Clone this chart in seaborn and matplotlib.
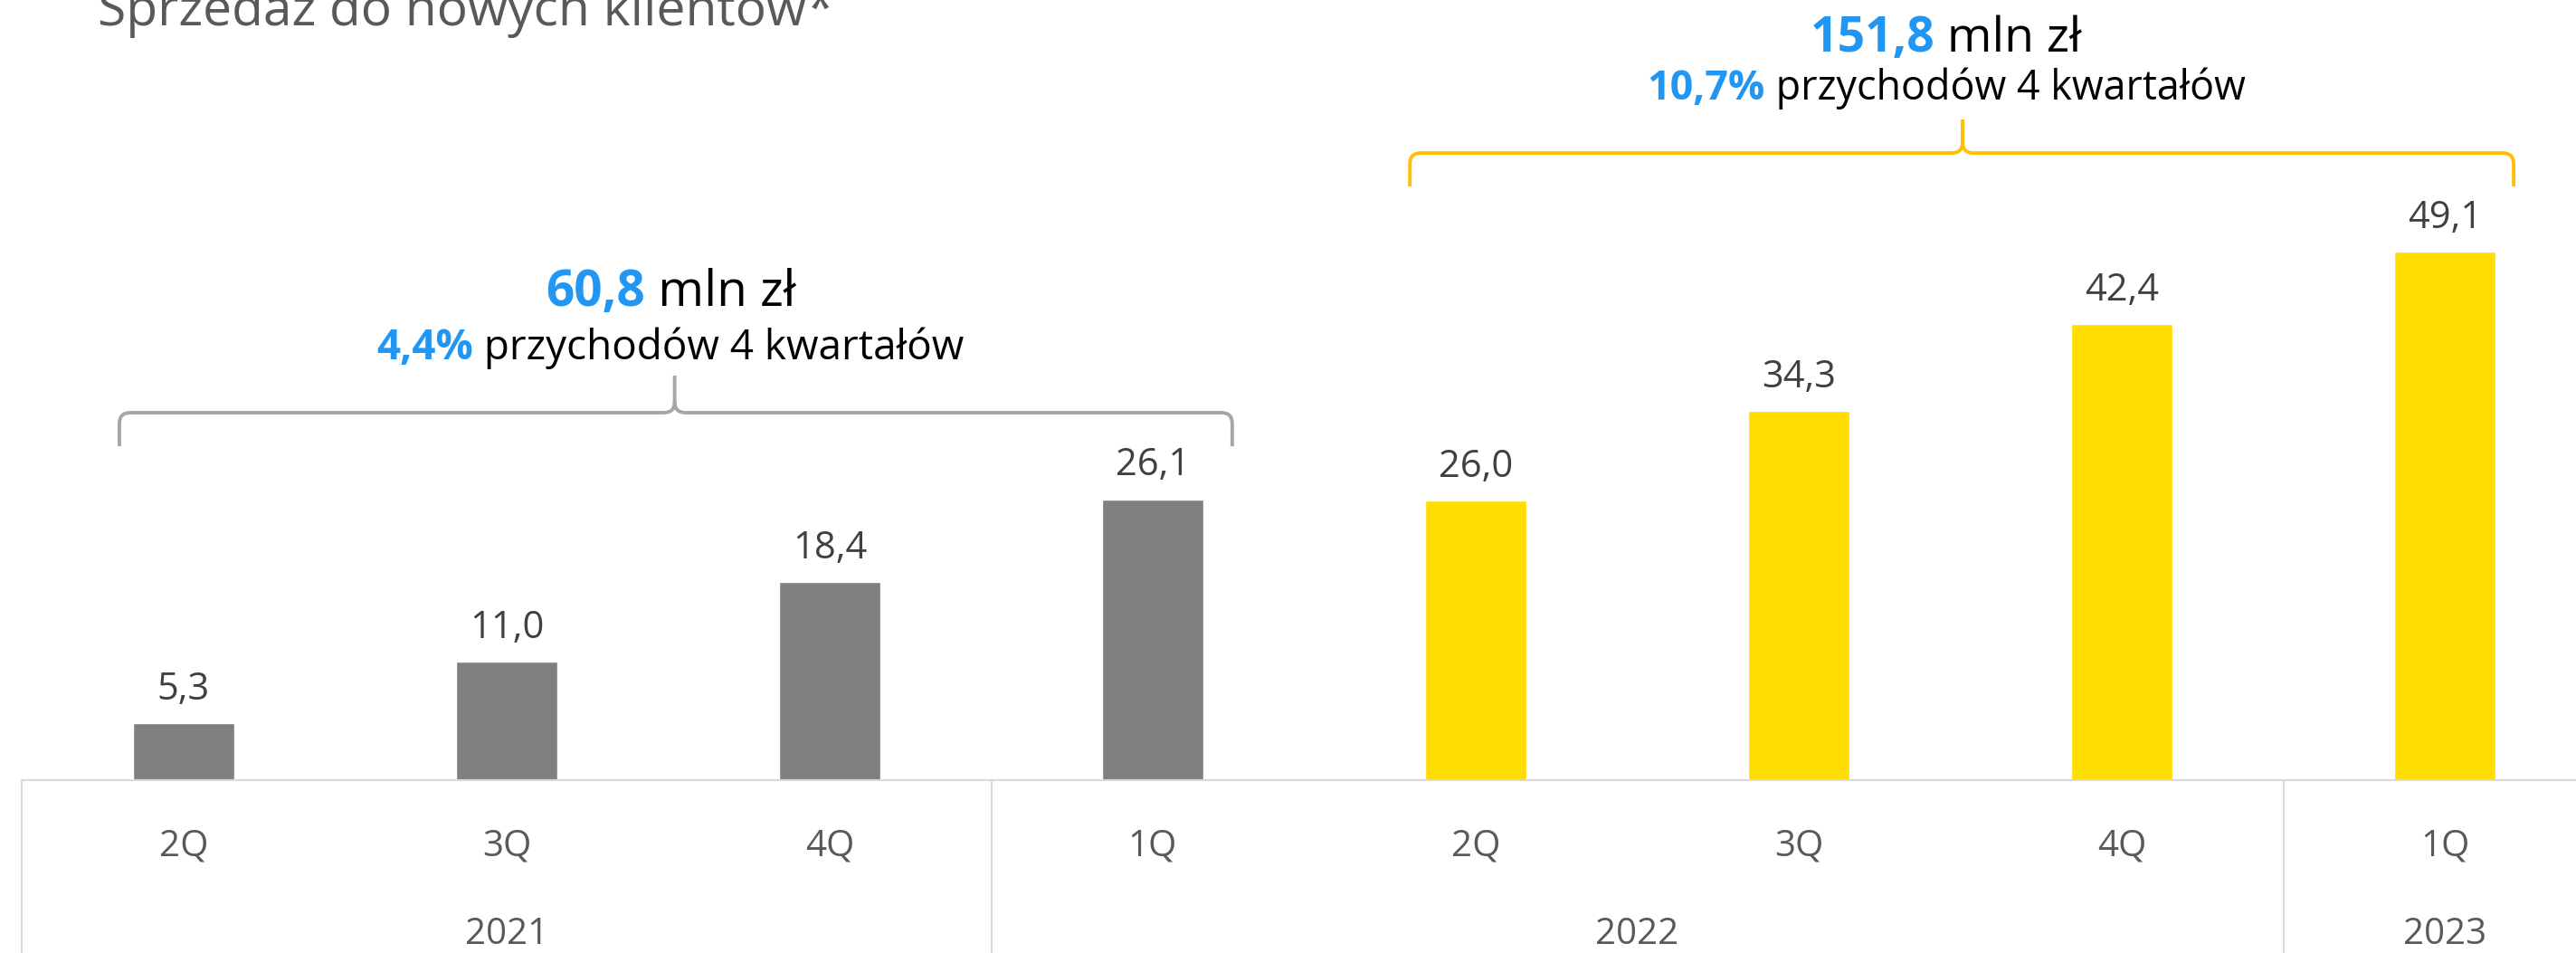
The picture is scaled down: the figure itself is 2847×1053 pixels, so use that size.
import matplotlib
matplotlib.use("Agg")
import matplotlib.pyplot as plt
import matplotlib.transforms as mtransforms
from matplotlib.path import Path
from matplotlib.patches import PathPatch
import seaborn as sns
import pandas as pd

quarters = ["2Q", "3Q", "4Q", "1Q", "2Q", "3Q", "4Q", "1Q"]
years = ["2021", "2021", "2021", "2022", "2022", "2022", "2022", "2023"]
values = [5.3, 11.0, 18.4, 26.1, 26.0, 34.3, 42.4, 49.1]
groups = ["prev", "prev", "prev", "prev", "last", "last", "last", "last"]

year_labels = ["2021", "2022", "2023"]
year_spans = [(-0.5, 2.5), (2.5, 6.5), (6.5, 7.5)]

title = "Sprzedaż do nowych klientów*"
sum_prev = ("60,8", "mln zł", "4,4%", "przychodów 4 kwartałów")
sum_last = ("151,8", "mln zł", "10,7%", "przychodów 4 kwartałów")

GRAY = "#808080"
YELLOW = "#FFDD00"
BLUE = "#2196F3"
LINE = "#D9D9D9"

sns.set_theme(style="white")
plt.rcParams["font.family"] = ["Open Sans", "DejaVu Sans"]

df = pd.DataFrame({"cat": [f"{q} {y}" for q, y in zip(quarters, years)],
                   "value": values, "group": groups})

fig = plt.figure(figsize=(28.47, 10.53), dpi=100)
ax = fig.add_axes([0, 0, 1, 1])
sns.barplot(data=df, x="cat", y="value", hue="group", order=list(df["cat"]),
            palette={"prev": GRAY, "last": YELLOW}, dodge=False, width=0.316,
            saturation=1, legend=False, ax=ax)
ax.set_xlim(-0.5686, 7.406)
ax.set_ylim(-16.06, 72.5)
ax.axis("off")

# value labels
for i, v in enumerate(values):
    ax.annotate(f"{v:.1f}".replace(".", ","), (i, v), xytext=(0, 19),
                textcoords="offset points", ha="center", va="baseline",
                fontsize=30, color="#404040")

# table under the bars
ax.plot([-0.5, 7.6], [0, 0], color=LINE, lw=1.5, clip_on=False, zorder=3)
for a, b in year_spans:
    ax.vlines([a], -17, 0, color=LINE, lw=1.5)
for i, q in enumerate(quarters):
    ax.text(i, -6.98, q, ha="center", va="baseline", fontsize=29, color="#595959")
for lab, (a, b) in zip(year_labels, year_spans):
    ax.text((a + 0.5 + b - 0.5) / 2, -15.22, lab, ha="center", va="baseline",
            fontsize=29, color="#595959")

fig.text(0.0379, 0.9734, title, ha="left", va="baseline", fontsize=41, color="#595959")


def brace(x0, x1, xc, y_end, y_h, y_peak, color):
    rx, ry = 0.034, 1.0
    verts = [(x0, y_end), (x0, y_h - ry), (x0, y_h), (x0 + rx, y_h),
             (xc - rx, y_h), (xc, y_h), (xc, y_h + ry), (xc, y_peak),
             (x1, y_end), (x1, y_h - ry), (x1, y_h), (x1 - rx, y_h),
             (xc + rx, y_h), (xc, y_h), (xc, y_h + ry)]
    codes = [Path.MOVETO, Path.LINETO, Path.CURVE3, Path.CURVE3,
             Path.LINETO, Path.CURVE3, Path.CURVE3, Path.LINETO,
             Path.MOVETO, Path.LINETO, Path.CURVE3, Path.CURVE3,
             Path.LINETO, Path.CURVE3, Path.CURVE3]
    ax.add_patch(PathPatch(Path(verts, codes), fill=False, edgecolor=color,
                           lw=2.8, capstyle="butt", joinstyle="round"))


brace(-0.199, 3.246, 1.52, 31.03, 34.15, 37.6, "#A6A6A6")
brace(3.796, 7.213, 5.507, 55.17, 58.28, 61.4, "#FFC000")

fig.canvas.draw()
renderer = fig.canvas.get_renderer()


def two_tone(x, y, blue_txt, rest, size):
    t1 = ax.text(x, y, blue_txt, color=BLUE, fontweight="bold", fontsize=size,
                 ha="left", va="baseline")
    t2 = ax.text(x, y, " " + rest, color="black", fontsize=size,
                 ha="left", va="baseline")
    w1 = t1.get_window_extent(renderer).width
    w2 = t2.get_window_extent(renderer).width
    total = w1 + w2
    t1.set_transform(mtransforms.offset_copy(ax.transData, fig=fig, x=-total / 2, y=0, units="dots"))
    t2.set_transform(mtransforms.offset_copy(ax.transData, fig=fig, x=-total / 2 + w1, y=0, units="dots"))


two_tone(1.507, 44.07, sum_prev[0], sum_prev[1], 39.5)
two_tone(1.507, 39.11, sum_prev[2], sum_prev[3], 33)
two_tone(5.456, 67.70, sum_last[0], sum_last[1], 38.5)
two_tone(5.456, 63.25, sum_last[2], sum_last[3], 32.3)

fig.savefig("out.png", dpi=100)
